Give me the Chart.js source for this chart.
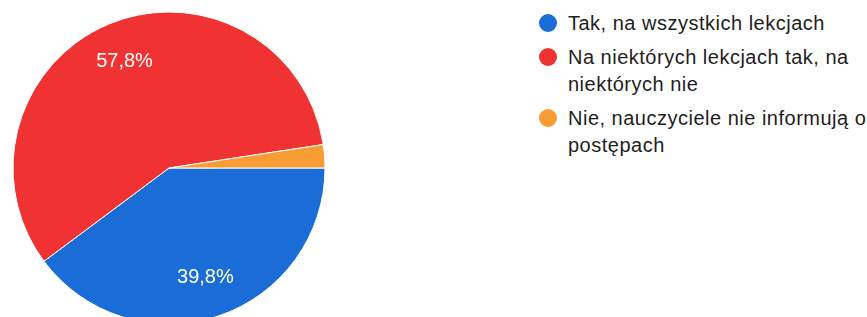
<!DOCTYPE html>
<html>
<head>
<meta charset="utf-8">
<script src="https://cdn.jsdelivr.net/npm/chart.js@4/dist/chart.umd.min.js"></script>
<style>
  html, body { margin: 0; padding: 0; background: #fff; width: 867px; height: 317px; overflow: hidden; position: relative; }
  #c { position: absolute; left: 0; top: 0; }
  #legend { position: absolute; left: 537px; top: 10px; font-family: "Liberation Sans", Arial, sans-serif; font-size: 20px; letter-spacing: 0.5px; color: #1e1e1e; }
  .item { position: relative; padding-left: 31px; width: 299px; line-height: 27px; margin-bottom: 7px; }
  .dot { position: absolute; left: 2px; top: 4px; width: 18px; height: 18px; border-radius: 50%; }
</style>
</head>
<body>
<canvas id="c" width="338" height="336"></canvas>
<div id="legend"></div>
<script>
const categories = ["Tak, na wszystkich lekcjach", "Na niektórych lekcjach tak, na niektórych nie", "Nie, nauczyciele nie informują o postępach"];
const values = [39.8, 57.8, 2.4];
const colors = ["#1a6dd6", "#f03232", "#f89d33"];

const labelPlugin = {
  id: 'sliceLabels',
  afterDatasetsDraw(chart) {
    const ctx = chart.ctx;
    const meta = chart.getDatasetMeta(0);
    ctx.save();
    ctx.font = '20px "Liberation Sans", Arial, sans-serif';
    ctx.fillStyle = '#ffffff';
    ctx.textAlign = 'center';
    ctx.textBaseline = 'middle';
    meta.data.forEach((arc, i) => {
      const v = values[i];
      if (v < 5) return;
      const p = arc.getProps(['x', 'y', 'startAngle', 'endAngle', 'outerRadius'], true);
      const mid = (p.startAngle + p.endAngle) / 2;
      const r = p.outerRadius * 0.74;
      const x = p.x + Math.cos(mid) * r;
      const y = p.y + Math.sin(mid) * r;
      ctx.fillText(v.toFixed(1).replace('.', ',') + '%', x, y);
    });
    ctx.restore();
  }
};

new Chart(document.getElementById('c'), {
  type: 'pie',
  data: {
    labels: categories,
    datasets: [{
      data: values,
      backgroundColor: colors,
      borderColor: '#ffffff',
      borderWidth: 1
    }]
  },
  options: {
    responsive: false,
    devicePixelRatio: 1,
    animation: false,
    rotation: 90,
    radius: 156,
    layout: { padding: 0 },
    plugins: { legend: { display: false }, tooltip: { enabled: false } }
  },
  plugins: [labelPlugin]
});

const lg = document.getElementById('legend');
categories.forEach((c, i) => {
  const d = document.createElement('div');
  d.className = 'item';
  const dot = document.createElement('span');
  dot.className = 'dot';
  dot.style.background = colors[i];
  d.appendChild(dot);
  d.appendChild(document.createTextNode(c));
  lg.appendChild(d);
});
</script>
</body>
</html>
